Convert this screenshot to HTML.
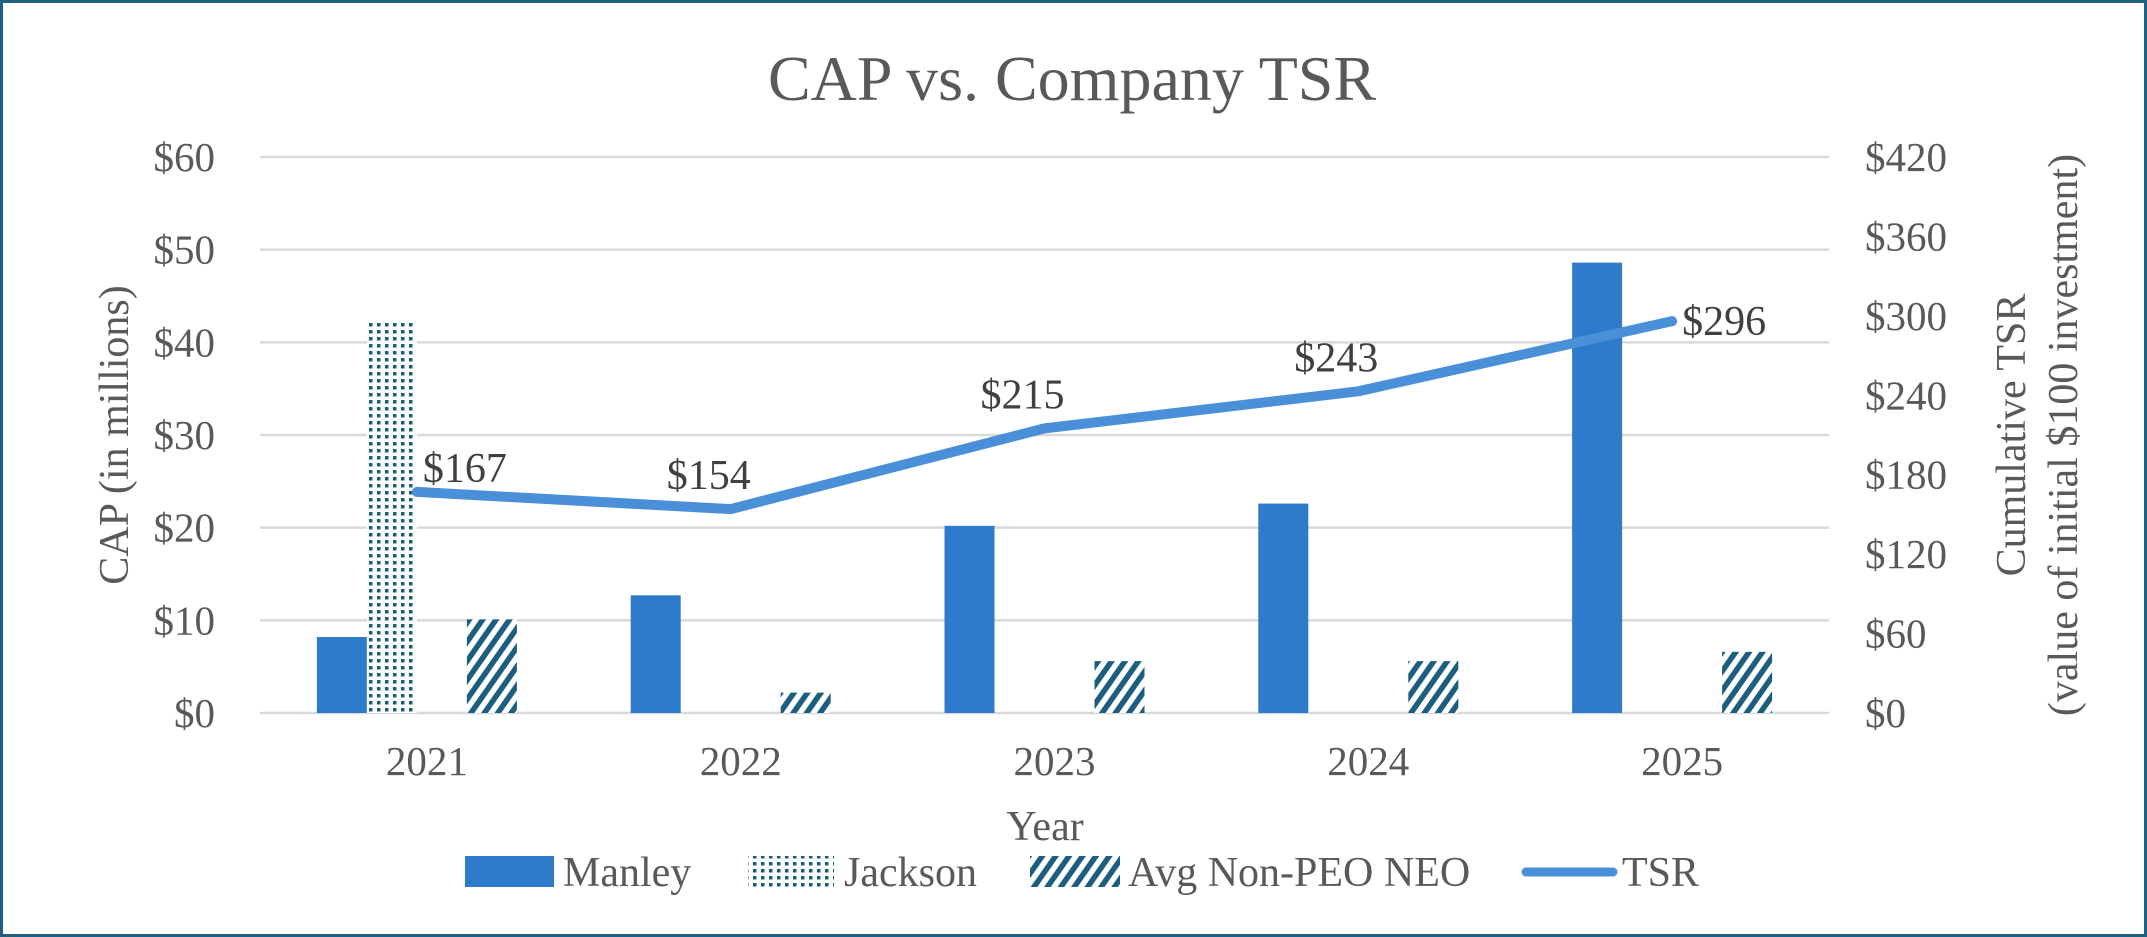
<!DOCTYPE html>
<html><head><meta charset="utf-8">
<style>
html,body{margin:0;padding:0;background:#fff;}
svg{display:block;}
text{font-family:"Liberation Serif","Times New Roman",serif;}
</style></head>
<body>
<svg id="chart" width="2147" height="937" viewBox="0 0 2147 937" xmlns="http://www.w3.org/2000/svg">
<defs>
<pattern id="dots" width="8" height="7" patternUnits="userSpaceOnUse">
<rect width="8" height="7" fill="#fff"/><rect x="1" y="1" width="3.5" height="3.5" fill="#1b5e7e"/>
</pattern>
<pattern id="diag" width="11" height="11" patternUnits="userSpaceOnUse" patternTransform="rotate(35)">
<rect width="11" height="11" fill="#fff"/><rect x="0" y="0" width="5.5" height="11" fill="#1b5e7e"/>
</pattern>
</defs>
<rect x="1.5" y="1.5" width="2144" height="934" fill="#fff" stroke="#1f5f80" stroke-width="3"/>
<text x="1072" y="100" font-size="64" fill="#595959" text-anchor="middle">CAP vs. Company TSR</text>
<g id="grid"></g><g id="bars"></g><g id="line"></g><g id="axes"></g>
<text transform="translate(128,435) rotate(-90)" font-size="42" fill="#595959" text-anchor="middle">CAP (in millions)</text>
<text transform="translate(2025,435) rotate(-90)" font-size="42" fill="#595959" text-anchor="middle">Cumulative TSR</text>
<text transform="translate(2077,435) rotate(-90)" font-size="42" fill="#595959" text-anchor="middle">(value of initial $100 investment)</text>
<text x="1045" y="840" font-size="42" fill="#595959" text-anchor="middle">Year</text>
<g>
<rect x="465" y="856" width="89" height="31" fill="#2e7bcb"/>
<text x="563" y="886" font-size="42" fill="#595959">Manley</text>
<rect x="748" y="856" width="86" height="31" fill="url(#dots)"/>
<text x="844" y="886" font-size="42" fill="#595959">Jackson</text>
<rect x="1030" y="856" width="90" height="31" fill="url(#diag)"/>
<text x="1128" y="886" font-size="42" fill="#595959">Avg Non-PEO NEO</text>
<line x1="1526" y1="872" x2="1613" y2="872" stroke="#4a90d9" stroke-width="9" stroke-linecap="round"/>
<text x="1622" y="886" font-size="42" fill="#595959">TSR</text>
</g>
</svg>
<script>
const years = ["2021","2022","2023","2024","2025"];
const manley = [8.2, 12.7, 20.2, 22.6, 48.6];
const jackson = [42.2, 0, 0, 0, 0];
const avgNeo = [10.1, 2.2, 5.6, 5.6, 6.6];
const tsr = [167, 154, 215, 243, 296];
const tsrLabels = ["$167","$154","$215","$243","$296"];
const labelPlacement = ["aboveRight","above","above","above","right"];
const leftTicks = [0,10,20,30,40,50,60];
const rightTicks = [0,60,120,180,240,300,360,420];

const NS = "http://www.w3.org/2000/svg";
const X0 = 260, X1 = 1829, Y0 = 713, Y1 = 157;
const LMAX = 60, RMAX = 420;
const band = (X1 - X0) / years.length;
const xc = i => X0 + band * (i + 0.5);
const yL = v => Y0 - (v / LMAX) * (Y0 - Y1);
const yR = v => Y0 - (v / RMAX) * (Y0 - Y1);
const BW = 50;
function mk(tag, attrs, parent, txt){
  const e = document.createElementNS(NS, tag);
  for (const k in attrs) e.setAttribute(k, attrs[k]);
  if (txt !== undefined) e.textContent = txt;
  parent.appendChild(e); return e;
}
const grid = document.getElementById('grid'), axes = document.getElementById('axes');
leftTicks.forEach((t) => {
  const g = mk('line', {x1:X0, x2:X1, y1:yL(t), y2:yL(t), stroke:'#d9d9d9', 'stroke-width':2.5}, grid);
  
  
  const l = mk('text', {x:215, y:yL(t)+14, 'font-size':41, fill:'#595959', 'text-anchor':'end'}, axes, '$' + t);
  
  
});
rightTicks.forEach((t) => {
  const l = mk('text', {x:1865, y:yR(t)+14, 'font-size':41, fill:'#595959'}, axes, '$' + t);
  
  
});
years.forEach((y, i) => {
  const l = mk('text', {x:xc(i)+10, y:775, 'font-size':41, fill:'#595959', 'text-anchor':'middle'}, axes, y);
  
  
});
const bars = document.getElementById('bars');
years.forEach((y, i) => {
  const c = xc(i);
  const series = [[manley[i], c-100, '#2e7bcb', 'bar-manley'], [jackson[i], c-50, 'url(#dots)', 'bar-jackson'], [avgNeo[i], c+50, 'url(#diag)', 'bar-avg-neo']];
  series.forEach(s => {
    if (!s[0]) return;
    const r = mk('rect', {x:s[1], y:yL(s[0]), width:BW, height:Y0 - yL(s[0]), fill:s[2]}, bars);
    
    
  });
});
const lg = document.getElementById('line');
const pts = tsr.map((v, i) => xc(i) + ',' + yR(v)).join(' ');
const pl = mk('polyline', {points:pts, fill:'none', stroke:'#4a90d9', 'stroke-width':10, 'stroke-linecap':'round', 'stroke-linejoin':'round'}, lg);


tsr.forEach((v, i) => {
  const px = xc(i), py = yR(v);
  let a;
  if (labelPlacement[i] === 'right') a = {x:px+10, y:py+14, 'text-anchor':'start'};
  else if (labelPlacement[i] === 'aboveRight') a = {x:px+6, y:py-10, 'text-anchor':'start'};
  else a = {x:px-22, y:py-20, 'text-anchor':'middle'};
  a['font-size'] = 42; a.fill = '#404040';
  const t = mk('text', a, lg, tsrLabels[i]);
  
  
});
</script>
</body></html>
